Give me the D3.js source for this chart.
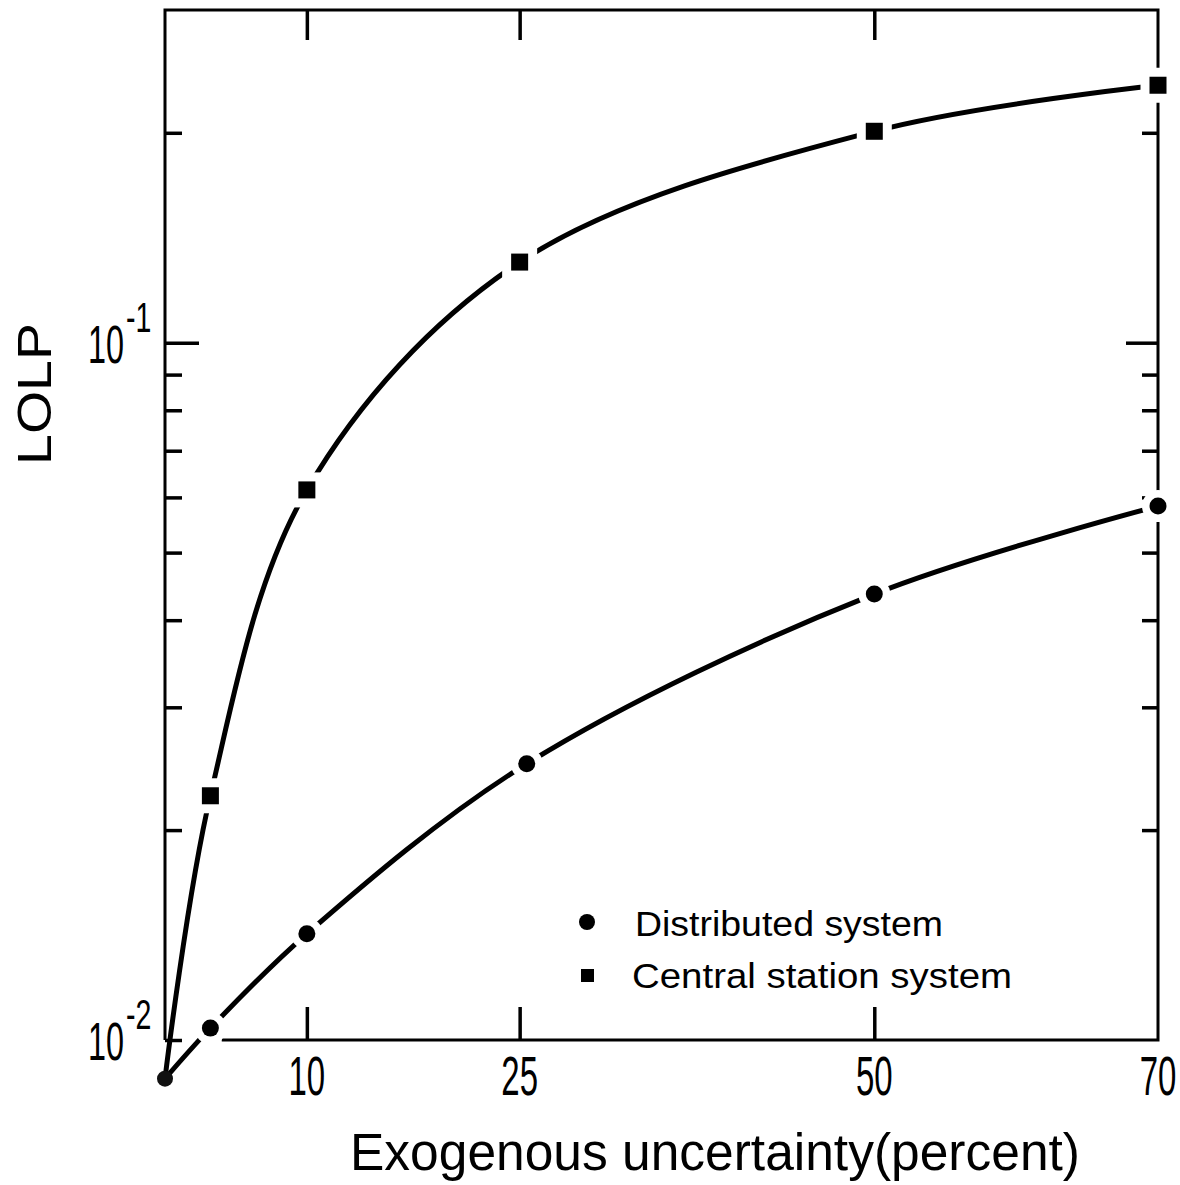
<!DOCTYPE html>
<html>
<head>
<meta charset="utf-8">
<script src="https://cdn.jsdelivr.net/npm/d3@7"></script>
<style>
  body { margin: 0; background: #fff; }
  text { font-family: "Liberation Sans", Arial, sans-serif; fill: #000; }
</style>
</head>
<body>
<script>
// values
const centralX = [0, 3.2, 10, 25, 50, 70];
const centralY = [0.0088, 0.0224, 0.0615, 0.1305, 0.201, 0.234];
const distX = [0, 3.2, 10, 25.5, 50, 70];
const distY = [0.0088, 0.0104, 0.0142, 0.0249, 0.0436, 0.0583];

const xTickVals = [10, 25, 50];
const xLabelVals = [10, 25, 50, 70];
const yMinor = [0.01, 0.02, 0.03, 0.04, 0.05, 0.06, 0.07, 0.08, 0.09, 0.2];
const yMajor = [0.1];
const yLabels = [{v: 0.1, exp: "-1"}, {v: 0.01, exp: "-2"}];

const W = 1180, H = 1185;
const svg = d3.select("body").append("svg").attr("width", W).attr("height", H);

const x = d3.scaleLinear().domain([0, 70]).range([165, 1158]);
const y = d3.scaleLog().domain([0.01, 0.3]).range([1040, 10]);

// frame (bottom line starts a bit right of the corner, like the original)
svg.append("path")
  .attr("d", `M${x(0)},${y(0.01)}V${y(0.3)}H${x(70)}V${y(0.01)}H${x(4)}`)
  .attr("fill", "none").attr("stroke", "#000").attr("stroke-width", 3);

function tickAxis(gen, tr, size) {
  const g = svg.append("g").attr("transform", tr).call(gen.tickSize(size).tickFormat(""));
  g.select(".domain").remove();
  g.selectAll("line").attr("stroke", "#000").attr("stroke-width", 3.5);
}
tickAxis(d3.axisBottom(x).tickValues(xTickVals), `translate(0,${y(0.3)})`, 30);
tickAxis(d3.axisTop(x).tickValues(xTickVals), `translate(0,${y(0.01)})`, 33);
tickAxis(d3.axisRight(y).tickValues(yMinor), `translate(${x(0)},0)`, 17);
tickAxis(d3.axisRight(y).tickValues(yMajor), `translate(${x(0)},0)`, 34);
tickAxis(d3.axisLeft(y).tickValues(yMinor.filter(d => d > 0.01)), `translate(${x(70)},0)`, 16);
tickAxis(d3.axisLeft(y).tickValues(yMajor), `translate(${x(70)},0)`, 32);

// condensed lettering helper
function ctext(px, py, str, size, anchor, sx) {
  return svg.append("g").attr("transform", `translate(${px},${py})`)
    .append("text").attr("transform", `scale(${sx},1)`)
    .attr("text-anchor", anchor).attr("font-size", size).text(str);
}

xLabelVals.forEach(v => ctext(x(v), 1095, String(v), 55, "middle", 0.6));

yLabels.forEach(d => {
  ctext(124, y(d.v) + 20, "10", 54, "end", 0.6);
  ctext(126, y(d.v) - 11, d.exp, 42, "start", 0.68);
});

svg.append("text")
  .attr("x", 715).attr("y", 1170)
  .attr("text-anchor", "middle").attr("font-size", 51)
  .attr("textLength", 730).attr("lengthAdjust", "spacingAndGlyphs")
  .text("Exogenous uncertainty(percent)");

svg.append("text")
  .attr("transform", "translate(51,394) rotate(-90)")
  .attr("text-anchor", "middle").attr("font-size", 48)
  .attr("textLength", 142).attr("lengthAdjust", "spacingAndGlyphs")
  .text("LOLP");

// curves
const line = d3.line().x(d => x(d[0])).y(d => y(d[1])).curve(d3.curveCatmullRom.alpha(0.5));
const central = centralX.map((v, i) => [v, centralY[i]]);
const dist = distX.map((v, i) => [v, distY[i]]);

[central, dist].forEach(s => {
  svg.append("path").attr("d", line(s))
    .attr("fill", "none").attr("stroke", "#000").attr("stroke-width", 5)
    .attr("stroke-linecap", "round");
});

// markers with white halo so lines break around them
const sq = 17;
svg.selectAll(".sqhalo").data(central.slice(1)).join("rect")
  .attr("x", d => x(d[0]) - sq / 2 - 9).attr("y", d => y(d[1]) - sq / 2 - 9)
  .attr("width", sq + 18).attr("height", sq + 18).attr("fill", "#fff");
svg.selectAll(".sq").data(central.slice(1)).join("rect")
  .attr("x", d => x(d[0]) - sq / 2).attr("y", d => y(d[1]) - sq / 2)
  .attr("width", sq).attr("height", sq).attr("fill", "#000");

svg.selectAll(".cihalo").data(dist.slice(1)).join("circle")
  .attr("cx", d => x(d[0])).attr("cy", d => y(d[1])).attr("r", 16).attr("fill", "#fff");
svg.selectAll(".ci").data(dist.slice(1)).join("circle")
  .attr("cx", d => x(d[0])).attr("cy", d => y(d[1])).attr("r", 8.5).attr("fill", "#000");

// shared start point
svg.append("circle").attr("cx", x(distX[0])).attr("cy", y(distY[0]))
  .attr("r", 8).attr("fill", "#111");

// legend
svg.append("circle").attr("cx", 587).attr("cy", 922).attr("r", 8).attr("fill", "#000");
svg.append("text").attr("x", 635).attr("y", 936).attr("font-size", 35)
  .attr("textLength", 308).attr("lengthAdjust", "spacingAndGlyphs")
  .text("Distributed system");
svg.append("rect").attr("x", 581).attr("y", 969).attr("width", 13).attr("height", 13).attr("fill", "#000");
svg.append("text").attr("x", 632).attr("y", 988).attr("font-size", 35)
  .attr("textLength", 380).attr("lengthAdjust", "spacingAndGlyphs")
  .text("Central station system");
</script>
</body>
</html>
